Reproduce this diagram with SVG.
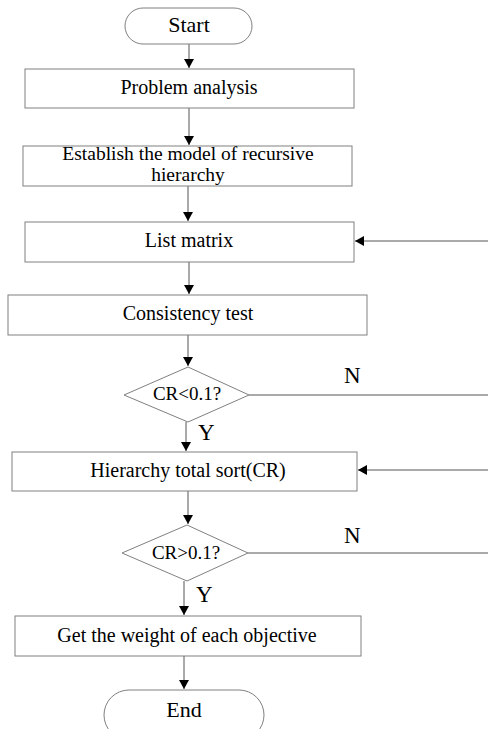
<svg xmlns="http://www.w3.org/2000/svg" width="488" height="729" viewBox="0 0 488 729">
<style>
.box{fill:#fff;stroke:#808080;stroke-width:1}
.t{font-family:"Liberation Serif","Times New Roman",serif;font-size:20px;fill:#000;text-anchor:middle}
.big{font-size:22px}
.dt{font-size:19px}
.two{font-size:19.5px}
.lbl{font-family:"Liberation Serif","Times New Roman",serif;font-size:23px;fill:#000}
.c{stroke:#555;stroke-width:1;fill:none}
</style>
<defs>
<marker id="ah" markerWidth="10" markerHeight="10" refX="9" refY="5" orient="auto" markerUnits="userSpaceOnUse">
<path d="M0,0 L9,5 L0,10 Z" fill="#000"/>
</marker>
</defs>
<rect width="488" height="729" fill="#fff"/>
<g id="connectors">
<line class="c" x1="189" y1="44" x2="189" y2="68" marker-end="url(#ah)"/>
<line class="c" x1="189" y1="108" x2="189" y2="145" marker-end="url(#ah)"/>
<line class="c" x1="188" y1="186" x2="188" y2="221" marker-end="url(#ah)"/>
<line class="c" x1="189" y1="262" x2="189" y2="294" marker-end="url(#ah)"/>
<line class="c" x1="188" y1="335" x2="188" y2="366" marker-end="url(#ah)"/>
<line class="c" x1="186" y1="422" x2="186" y2="451" marker-end="url(#ah)"/>
<line class="c" x1="188" y1="491" x2="188" y2="524" marker-end="url(#ah)"/>
<line class="c" x1="184" y1="581" x2="184" y2="615" marker-end="url(#ah)"/>
<line class="c" x1="184" y1="656" x2="184" y2="689" marker-end="url(#ah)"/>
<line class="c" x1="249" y1="395" x2="488" y2="395"/>
<line class="c" x1="488" y1="241" x2="355" y2="241" marker-end="url(#ah)"/>
<line class="c" x1="248" y1="553" x2="488" y2="553"/>
<line class="c" x1="488" y1="470" x2="358" y2="470" marker-end="url(#ah)"/>
<text class="lbl" x="344" y="383">N</text>
<text class="lbl" x="198" y="440">Y</text>
<text class="lbl" x="344" y="543">N</text>
<text class="lbl" x="196" y="602">Y</text>
</g>
<g id="start">
<rect class="box" x="125" y="8" width="127" height="36" rx="18"/>
<text class="t big" x="189" y="32">Start</text>
</g>
<g id="problem">
<rect class="box" x="25" y="69" width="329" height="39"/>
<text class="t" x="189" y="94">Problem analysis</text>
</g>
<g id="establish">
<rect class="box" x="23" y="146" width="329" height="40"/>
<text class="t two" x="188" y="160">Establish the model of recursive</text>
<text class="t two" x="188" y="181">hierarchy</text>
</g>
<g id="list">
<rect class="box" x="25" y="222" width="329" height="40"/>
<text class="t" x="189" y="247">List matrix</text>
</g>
<g id="consistency">
<rect class="box" x="8" y="295" width="359" height="40"/>
<text class="t" x="188" y="320">Consistency test</text>
</g>
<g id="d1">
<polygon class="box" points="188,367 249,395 188,422 124,395"/>
<text class="t dt" x="187" y="400">CR&lt;0.1?</text>
</g>
<g id="hierarchy">
<rect class="box" x="12" y="452" width="345" height="39"/>
<text class="t" x="188" y="477">Hierarchy total sort(CR)</text>
</g>
<g id="d2">
<polygon class="box" points="187,525 248,553 187,581 122,553"/>
<text class="t dt" x="186" y="559">CR&gt;0.1?</text>
</g>
<g id="weight">
<rect class="box" x="15" y="616" width="346" height="40"/>
<text class="t" x="187" y="642">Get the weight of each objective</text>
</g>
<g id="end">
<rect class="box" x="104" y="690" width="160" height="50" rx="25"/>
<text class="t big" x="184" y="717">End</text>
</g>
</svg>
